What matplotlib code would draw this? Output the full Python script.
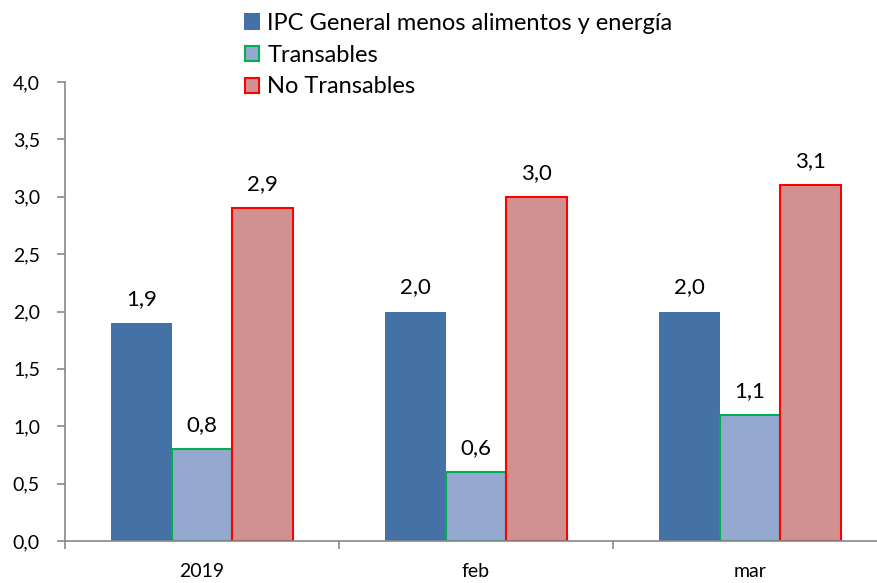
import matplotlib
matplotlib.use("Agg")
from matplotlib import pyplot as plt
from matplotlib.patches import Patch
import numpy as np

categories = ["2019", "feb", "mar"]
series_names = ["IPC General menos alimentos y energía", "Transables", "No Transables"]
ipc_core = [1.9, 2.0, 2.0]
transables = [0.8, 0.6, 1.1]
no_transables = [2.9, 3.0, 3.1]
y_ticks = [0.0, 0.5, 1.0, 1.5, 2.0, 2.5, 3.0, 3.5, 4.0]

plt.rcParams['font.family'] = ['Lato', 'DejaVu Sans']

fig = plt.figure(figsize=(8.78, 5.83), dpi=100)
# axes frame in pixels: left 65, right 878, bottom 541, top 82
ax = fig.add_axes([65 / 878, (583 - 541) / 583, (878 - 65) / 878, (541 - 82) / 583])

x = np.arange(len(categories))
w = 0.222
faces = ["#4472A6", "#95A8CF", "#D29191"]
edges = ["none", "#00B050", "#FF0000"]
values = [ipc_core, transables, no_transables]

for k, vals in enumerate(values):
    pos = x + (k - 1) * w
    ax.bar(pos, vals, width=w, color=faces[k], edgecolor=edges[k],
           linewidth=1.5 if k else 0, zorder=2)
    for px_, v in zip(pos, vals):
        ax.annotate(("%.1f" % v).replace(".", ","), (px_, v),
                    xytext=(0, 13), textcoords="offset points",
                    ha="center", va="baseline", fontsize=16)

ax.set_ylim(0, 4.0)
ax.set_xlim(-0.5, 2.5 - 9 / 274)
ax.set_yticks(y_ticks)
ax.set_yticklabels([("%.1f" % t).replace(".", ",") for t in y_ticks], fontsize=14)
ax.set_xticks(x)
ax.set_xticklabels(categories, fontsize=14)
ax.set_xticks([-0.5, 0.5, 1.5], minor=True)
ax.tick_params(axis="x", which="major", length=0, pad=16)
ax.tick_params(axis="x", which="minor", length=6, direction="out", color="#888888", width=1.2)
ax.tick_params(axis="y", length=6, direction="out", color="#888888", width=1.2, pad=12)

for s in ["top", "right"]:
    ax.spines[s].set_visible(False)
for s in ["left", "bottom"]:
    ax.spines[s].set_color("#888888")
    ax.spines[s].set_linewidth(1.2)

handles = [Patch(facecolor=faces[k], edgecolor=edges[k] if k else faces[k],
                 linewidth=1.5) for k in range(3)]
fig.legend(handles, series_names, loc="upper left", bbox_to_anchor=(240 / 878, 1 - 8 / 583),
           frameon=False, fontsize=17, handlelength=0.6, handleheight=0.6,
           handletextpad=0.35, labelspacing=0.46, borderaxespad=0, borderpad=0.2)

fig.savefig("out.png", dpi=100)
